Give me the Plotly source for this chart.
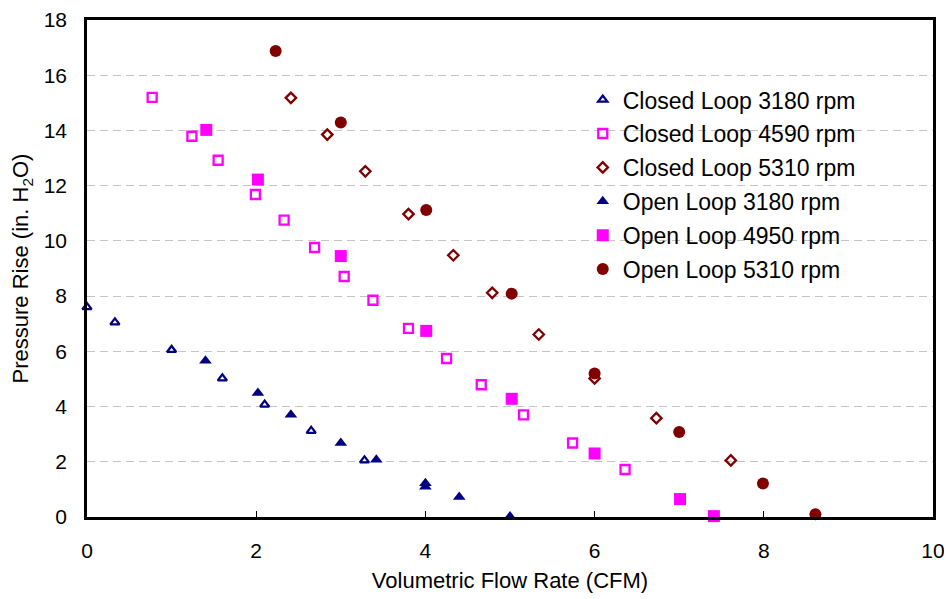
import plotly.graph_objects as go

# Closed Loop 3180 rpm
cl3180_x = [0.0, 0.33, 1.0, 1.6, 2.1, 2.65, 3.28]
cl3180_y = [7.6, 7.05, 6.05, 5.02, 4.07, 3.12, 2.05]
# Closed Loop 4590 rpm
cl4590_x = [0.77, 1.24, 1.55, 1.99, 2.33, 2.69, 3.04, 3.38, 3.8, 4.25, 4.66, 5.16, 5.74, 6.36]
cl4590_y = [15.2, 13.79, 12.92, 11.68, 10.75, 9.76, 8.71, 7.85, 6.83, 5.74, 4.79, 3.7, 2.68, 1.72]
# Closed Loop 5310 rpm
cl5310_x = [2.41, 2.84, 3.29, 3.8, 4.33, 4.79, 5.34, 6.0, 6.73, 7.61]
cl5310_y = [15.18, 13.85, 12.52, 10.97, 9.48, 8.12, 6.61, 5.02, 3.58, 2.05]
# Open Loop 3180 rpm
ol3180_x = [1.4, 2.02, 2.41, 3.0, 3.42, 4.0, 4.0, 4.4, 5.0]
ol3180_y = [5.66, 4.49, 3.7, 2.68, 2.07, 1.22, 1.1, 0.72, 0.02]
# Open Loop 4950 rpm
ol4950_x = [1.41, 2.02, 3.0, 4.01, 5.02, 6.0, 7.01, 7.41]
ol4950_y = [14.02, 12.22, 9.45, 6.74, 4.28, 2.3, 0.65, 0.03]
# Open Loop 5310 rpm
ol5310_x = [2.23, 3.0, 4.01, 5.02, 6.0, 7.0, 7.99, 8.61]
ol5310_y = [16.88, 14.29, 11.12, 8.09, 5.2, 3.08, 1.21, 0.1]

x_ticks = [0, 2, 4, 6, 8, 10]
y_ticks = [0, 2, 4, 6, 8, 10, 12, 14, 16, 18]

NAVY = "#000080"
MAG = "#FF00FF"
DRED = "#800000"

series = [
    ("Closed Loop 3180 rpm", cl3180_x, cl3180_y, "triangle-up-open", NAVY, 8),
    ("Closed Loop 4590 rpm", cl4590_x, cl4590_y, "square-open", MAG, 9),
    ("Closed Loop 5310 rpm", cl5310_x, cl5310_y, "diamond-open", DRED, 8),
    ("Open Loop 3180 rpm", ol3180_x, ol3180_y, "triangle-up", NAVY, 11),
    ("Open Loop 4950 rpm", ol4950_x, ol4950_y, "square", MAG, 12),
    ("Open Loop 5310 rpm", ol5310_x, ol5310_y, "circle", DRED, 12),
]

fig = go.Figure()
for name, xs, ys, sym, col, size in series:
    fig.add_trace(go.Scatter(
        x=xs, y=ys, mode="markers", name=name, legendgroup=name,
        marker=dict(symbol=sym, color=col, size=size,
                    line=dict(color=col, width=2.3 if "open" in sym else 0)),
        cliponaxis=False,
    ))

FONT = "Liberation Sans, Arial, sans-serif"
fig.update_layout(
    width=952, height=599,
    paper_bgcolor="white", plot_bgcolor="white",
    margin=dict(l=79, r=27, t=12, b=90, autoexpand=False),
    font=dict(family=FONT, color="black", size=22),
    showlegend=True,
    legend=dict(x=0.586, y=0.883, xanchor="left", yanchor="top",
                bgcolor="rgba(0,0,0,0)", font=dict(size=23),
                tracegroupgap=1, itemwidth=30),
    xaxis=dict(range=[0, 10], tickvals=x_ticks, showgrid=False, zeroline=False,
               automargin=False,
               showline=True, mirror=True, linecolor="black", linewidth=2.5,
               ticks="inside", ticklen=6, tickcolor="black", tickwidth=1,
               tickfont=dict(size=21), ticklabelstandoff=13,
               title=dict(text="Volumetric Flow Rate (CFM)", font=dict(size=22), standoff=12)),
    yaxis=dict(range=[0, 18], tickvals=y_ticks, showgrid=True, gridcolor="#C4C4C4",
               griddash="8px,5px", gridwidth=1, zeroline=False, automargin=False,
               showline=True, mirror=True, linecolor="black", linewidth=2.5,
               ticks="", tickfont=dict(size=21), ticklabelstandoff=13,
               title=dict(text="Pressure Rise (in. H<sub>2</sub>O)", font=dict(size=22), standoff=10)),
)

fig.write_html("out.html")
